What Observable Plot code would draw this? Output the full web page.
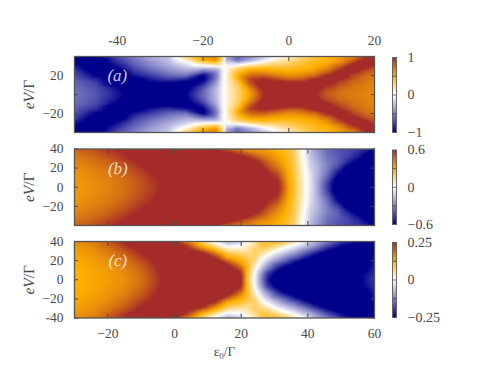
<!DOCTYPE html>
<html>
<head>
<meta charset="utf-8">
<script src="https://cdn.jsdelivr.net/npm/d3@7"></script>
<script src="https://cdn.jsdelivr.net/npm/@observablehq/plot@0.6"></script>
<style>
html,body{margin:0;padding:0;background:#fff}
#chart{position:relative;width:498px;height:374px;overflow:hidden}
#chart svg{position:absolute;left:0;top:0;max-width:none;text-rendering:geometricPrecision}
#chart svg text{font-family:"Liberation Serif","Times New Roman",serif !important}
</style>
</head>
<body>
<div id="chart"></div>
<script>
// Bias-voltage rows (upper half; the maps are mirrored in V)
const voltageRows = [40,36,32,28,24,20,16,12,8,4,0];

// Panel (a): values as fractions of the colour limit, one column per epsilon
const epsA = [-50,-45,-40,-36,-32,-28,-24,-20,-17,-15.5,-14.5,-12,-9,-6,-3,0,3,6,9,12,15,18,20];
const valuesA = [
 [-1.2,-1.2,-1.0,-.85,-.75,-.68,-.63,-.6,-.57,-.55,-.55],
 [-1.0,-1.2,-1.2,-1.2,-1.1,-1.0,-.85,-.75,-.7,-.68,-.67],
 [-.7,-.78,-.88,-1.0,-1.2,-1.2,-1.2,-1.2,-1.0,-.93,-.9],
 [-.5,-.55,-.62,-.7,-.8,-.92,-1.1,-1.2,-1.2,-1.2,-1.1],
 [-.32,-.38,-.44,-.52,-.62,-.75,-.88,-1.05,-1.2,-1.2,-1.2],
 [-.2,-.25,-.3,-.38,-.48,-.6,-.77,-1.0,-1.2,-1.2,-1.2],
 [.28,.08,-.12,-.25,-.38,-.55,-.85,-1.1,-1.1,-1.05,-1.0],
 [.62,.48,.15,-.22,-.6,-1.0,-1.05,-.9,-.72,-.62,-.6],
 [.68,.62,.25,-.2,-.45,-.55,-.5,-.4,-.32,-.28,-.27],
 [.3,.25,.1,-.05,-.08,-.08,-.07,-.06,-.05,-.05,-.05],
 [-.35,-.3,-.1,.03,.06,.08,.08,.08,.07,.07,.07],
 [-.62,-.55,-.12,.25,.38,.48,.45,.35,.3,.27,.27],
 [-.45,-.32,.05,.4,.6,.75,.9,.85,.7,.6,.57],
 [-.25,-.1,.2,.45,.6,.8,1.0,1.1,1.1,1.0,.95],
 [0,.1,.25,.42,.55,.7,.9,1.1,1.2,1.2,1.2],
 [.1,.2,.32,.42,.52,.62,.8,1.05,1.2,1.2,1.2],
 [.25,.33,.4,.46,.54,.65,.82,1.05,1.2,1.2,1.2],
 [.38,.43,.47,.52,.6,.75,1.0,1.2,1.15,1.05,1.02],
 [.45,.48,.54,.62,.78,1.0,1.2,1.1,.95,.85,.82],
 [.55,.6,.7,.9,1.05,1.2,1.0,.88,.8,.75,.73],
 [.65,.8,1.0,1.2,1.05,.9,.82,.76,.73,.7,.7],
 [.95,1.1,1.2,1.0,.85,.76,.72,.7,.68,.67,.66],
 [1.2,1.2,1.0,.85,.76,.72,.68,.66,.65,.64,.64]
];

// Panel (b)
const epsB = [-30,-25,-20,-15,-10,-5,0,5,10,15,20,25,28,31,34,36,38,39.5,41,43,46,49,52,55,58,60];
const valuesB = [
 [.78,.74,.7,.67,.64,.62,.6,.59,.58,.58,.58],
 [.85,.8,.76,.73,.7,.67,.65,.64,.63,.62,.62],
 [.95,.9,.85,.8,.76,.73,.7,.69,.68,.67,.67],
 [1.05,1.0,.97,.92,.87,.83,.8,.77,.75,.74,.74],
 [1.2,1.15,1.1,1.05,1.0,.96,.92,.89,.86,.85,.84],
 [1.2,1.2,1.2,1.2,1.15,1.1,1.05,1.02,1.0,.98,.98],
 [1.2,1.2,1.2,1.2,1.2,1.2,1.2,1.2,1.2,1.2,1.2],
 [1.2,1.2,1.2,1.2,1.2,1.2,1.2,1.2,1.2,1.2,1.2],
 [1.15,1.2,1.2,1.2,1.2,1.2,1.2,1.2,1.2,1.2,1.2],
 [.85,1.05,1.2,1.2,1.2,1.2,1.2,1.2,1.2,1.2,1.2],
 [.65,.85,1.05,1.2,1.2,1.2,1.2,1.2,1.2,1.2,1.2],
 [.6,.65,.8,.95,1.05,1.15,1.2,1.2,1.2,1.2,1.2],
 [.55,.6,.67,.75,.83,.9,.98,1.02,1.05,1.1,1.1],
 [.48,.52,.56,.6,.65,.72,.82,.9,.98,1.02,1.05],
 [.38,.42,.44,.46,.48,.5,.52,.54,.56,.58,.6],
 [.28,.3,.31,.33,.34,.35,.36,.37,.38,.38,.38],
 [.05,.05,.07,.08,.1,.12,.13,.15,.16,.17,.17],
 [-.1,-.1,-.08,-.06,-.04,-.02,-.01,0,0,0,0],
 [-.3,-.28,-.25,-.22,-.2,-.17,-.15,-.14,-.13,-.12,-.12],
 [-.42,-.4,-.37,-.34,-.32,-.3,-.3,-.31,-.33,-.35,-.35],
 [-.6,-.58,-.55,-.53,-.5,-.52,-.55,-.6,-.68,-.75,-.78],
 [-.68,-.66,-.64,-.63,-.66,-.75,-.9,-1.0,-1.1,-1.2,-1.2],
 [-.73,-.72,-.74,-.82,-.93,-1.1,-1.2,-1.2,-1.2,-1.2,-1.2],
 [-.78,-.82,-.9,-1.02,-1.2,-1.2,-1.2,-1.2,-1.2,-1.2,-1.2],
 [-.88,-.98,-1.1,-1.2,-1.2,-1.2,-1.2,-1.2,-1.2,-1.2,-1.2],
 [-1.0,-1.15,-1.2,-1.2,-1.2,-1.2,-1.2,-1.2,-1.2,-1.2,-1.2]
];

// Panel (c)
const epsC = [-30,-25,-20,-15,-10,-5,0,4,8,12,16,20,22,24,26,28,30,33,36,39,42,46,50,55,60];
const valuesC = [
 [.62,.6,.57,.55,.53,.52,.51,.5,.49,.49,.49],
 [.68,.65,.62,.6,.58,.56,.55,.54,.53,.53,.53],
 [.82,.77,.72,.68,.65,.62,.6,.59,.58,.57,.57],
 [1.0,.95,.87,.8,.76,.72,.68,.66,.64,.63,.63],
 [1.2,1.15,1.05,1.0,.93,.88,.83,.79,.76,.75,.74],
 [1.2,1.2,1.2,1.15,1.12,1.05,1.02,1.0,.97,.95,.94],
 [1.05,1.2,1.2,1.2,1.2,1.2,1.2,1.2,1.2,1.2,1.2],
 [.65,.9,1.05,1.2,1.2,1.2,1.2,1.2,1.2,1.2,1.2],
 [.3,.5,.75,1.05,1.2,1.2,1.2,1.2,1.2,1.2,1.2],
 [-.05,.2,.45,.7,.95,1.15,1.2,1.2,1.2,1.2,1.2],
 [-.3,-.1,.15,.35,.5,.75,1.0,1.15,1.2,1.2,1.2],
 [-.2,-.02,.12,.25,.4,.5,.62,.8,.95,1.02,1.0],
 [0,.1,.17,.22,.3,.38,.42,.45,.4,.37,.35],
 [.15,.2,.3,.33,.3,.28,.17,.1,.03,0,-.02],
 [.33,.38,.32,.22,.12,0,-.1,-.2,-.35,-.42,-.45],
 [.42,.38,.25,.1,-.05,-.2,-.35,-.5,-.72,-.85,-.9],
 [.42,.3,.12,-.05,-.2,-.38,-.6,-.75,-.95,-1.05,-1.1],
 [.35,.15,-.05,-.22,-.42,-.6,-.85,-1.05,-1.2,-1.2,-1.2],
 [.15,-.02,-.2,-.4,-.6,-.85,-1.05,-1.2,-1.2,-1.2,-1.2],
 [-.03,-.2,-.4,-.6,-.85,-1.05,-1.2,-1.2,-1.2,-1.2,-1.2],
 [-.25,-.4,-.6,-.85,-1.05,-1.2,-1.2,-1.2,-1.2,-1.2,-1.2],
 [-.5,-.7,-.9,-1.1,-1.2,-1.2,-1.2,-1.2,-1.2,-1.2,-1.2],
 [-.8,-.95,-1.1,-1.2,-1.2,-1.2,-1.2,-1.2,-1.2,-1.2,-1.2],
 [-1.0,-1.1,-1.2,-1.2,-1.2,-1.2,-1.2,-1.2,-1.1,-1.05,-1.05],
 [-1.2,-1.2,-1.2,-1.1,-1.0,-.94,-.9,-.86,-.83,-.8,-.8]
];

// Colour stops (fractions of the limit) and colours
const colorStops = [-1,0,0.5,1];
const colorRange = ["#00008b","#ffffff","#ffb000","#a52a2a"];

// Limits and tick labels
const limits = [1,0.6,0.25];
const panelNames = ["(a)","(b)","(c)"];

const topTicksA = [-40,-20,0,20];
const topLabelsA = ["-40","\u221220","0","20"];
const bottomTicks = [-20,0,20,40,60];
const bottomLabelsC = ["\u221220","0","20","40","60"];
const yTicksA = [-20,0,20];
const yLabelsA = ["\u221220","","20"];
const yTicksB = [-40,-20,0,20,40];
const yLabelsB = ["","\u221220","0","20","40"];
const yLabelsC = ["-40","\u221220","0","20","40"];
const barLabels = [
  ["\u22121","0","1"],
  ["\u22120.6","0","0.6"],
  ["\u22120.25","0","0.25"]
];

const FONT = "'Liberation Serif', serif";
const INK = "#4a4a4a";
const root = document.getElementById("chart");

function toPoints(eps, columns, limit) {
  const pts = [];
  eps.forEach((e, i) => {
    voltageRows.forEach((v, j) => {
      pts.push({e, v, z: columns[i][j] * limit});
      if (v !== 0) pts.push({e, v: -v, z: columns[i][j] * limit});
    });
  });
  return pts;
}

const labelOf = (ticks, labels) => d => labels[ticks.indexOf(d)] ?? "";
const blank = () => "";

function colorScale(limit) {
  return {type: "linear", domain: colorStops.map(s => s * limit), range: colorRange, clamp: true};
}

function panel({eps, values, limit, name, xDomain, top, bottom, yTicks, yLabels, xMarks, annotX}) {
  const pts = toPoints(eps, values, limit);
  const svg = Plot.plot({
    width: 498, height: 374,
    marginLeft: 74, marginRight: 124, marginTop: top, marginBottom: 374 - bottom,
    style: {background: "transparent", fontFamily: FONT, fontSize: "13.5px", color: INK, overflow: "visible"},
    x: {domain: xDomain},
    y: {domain: [-40, 40]},
    color: colorScale(limit),
    marks: [
      Plot.raster(pts, {x: "e", y: "v", fill: "z", interpolate: "barycentric", pixelSize: 1}),
      ...xMarks,
      Plot.axisY({anchor: "left", ticks: yTicks, tickFormat: labelOf(yTicks, yLabels), tickSize: -4, tickPadding: 15,
        stroke: INK, label: "eV/\u0393", labelAnchor: "center", labelArrow: "none", labelOffset: 52}),
      Plot.axisY({anchor: "right", ticks: yTicks, tickFormat: blank, tickSize: -4, stroke: INK, label: null}),
      Plot.frame({stroke: "#555", strokeWidth: 1.3}),
      Plot.text([name], {x: () => annotX, y: () => 20, text: d => d, fill: "white", fontStyle: "italic", fontSize: 17, fillOpacity: 0.8, fontFamily: FONT})
    ]
  });
  root.appendChild(svg);
  return svg;
}

function colorbar(limit, labels, top, bottom) {
  const svg = Plot.plot({
    width: 498, height: 374,
    marginLeft: 392, marginRight: 102, marginTop: top, marginBottom: 374 - bottom,
    style: {background: "transparent", fontFamily: FONT, fontSize: "14px", color: INK},
    x: {domain: [0, 1], axis: null},
    y: {domain: [-limit, limit], axis: null},
    color: colorScale(limit),
    marks: [
      Plot.raster({fill: (x, y) => y, x1: 0, x2: 1, y1: -limit, y2: limit, width: 2, height: 80}),
      Plot.ruleY([-limit / 2, 0, limit / 2], {stroke: "#333", strokeOpacity: 0.7, strokeWidth: 1}),
      Plot.frame({stroke: "#666", strokeWidth: 1}),
      Plot.axisY({anchor: "right", ticks: [-limit, 0, limit], tickSize: 0, tickPadding: 11, label: null,
        tickFormat: labelOf([-limit, 0, limit], labels)})
    ]
  });
  root.appendChild(svg);
}

const topAxis = [
  Plot.axisX({anchor: "top", ticks: topTicksA, tickFormat: labelOf(topTicksA, topLabelsA), tickSize: -4, tickPadding: 15.5, stroke: INK, label: null}),
  Plot.axisX({anchor: "bottom", ticks: topTicksA, tickFormat: blank, tickSize: -4, stroke: INK, label: null})
];
const midAxis = [
  Plot.axisX({anchor: "top", ticks: bottomTicks, tickFormat: blank, tickSize: -4, stroke: INK, label: null}),
  Plot.axisX({anchor: "bottom", ticks: bottomTicks, tickFormat: blank, tickSize: -4, stroke: INK, label: null})
];
const lowAxis = [
  Plot.axisX({anchor: "top", ticks: bottomTicks, tickFormat: blank, tickSize: -4, stroke: INK, label: null}),
  Plot.axisX({anchor: "bottom", ticks: bottomTicks, tickFormat: labelOf(bottomTicks, bottomLabelsC), tickSize: -4, tickPadding: 14, stroke: INK,
    label: "\u03b50/\u0393", labelAnchor: "center", labelArrow: "none", labelOffset: 38})
];

const svgs = [
  panel({eps: epsA, values: valuesA, limit: limits[0], name: panelNames[0], xDomain: [-50, 20], top: 56, bottom: 132, yTicks: yTicksA, yLabels: yLabelsA, xMarks: topAxis, annotX: -40}),
  panel({eps: epsB, values: valuesB, limit: limits[1], name: panelNames[1], xDomain: [-30, 60], top: 148.5, bottom: 225, yTicks: yTicksB, yLabels: yLabelsB, xMarks: midAxis, annotX: -17}),
  panel({eps: epsC, values: valuesC, limit: limits[2], name: panelNames[2], xDomain: [-30, 60], top: 241, bottom: 317.5, yTicks: yTicksB, yLabels: yLabelsC, xMarks: lowAxis, annotX: -17})
];
colorbar(limits[0], barLabels[0], 57, 132);
colorbar(limits[1], barLabels[1], 149.5, 224);
colorbar(limits[2], barLabels[2], 242, 317);

// Italic / subscript parts of the axis titles stay real text
svgs.forEach(s => {
  s.querySelectorAll("text").forEach(t => {
    if (t.textContent === "eV/\u0393") {
      t.innerHTML = '<tspan font-style="italic">eV</tspan>/\u0393';
      t.style.fontSize = "15.5px";
    } else if (t.textContent === "\u03b50/\u0393") {
      t.innerHTML = '\u03b5<tspan dy="3" font-size="9">0</tspan><tspan dy="-3">/\u0393</tspan>';
    }
  });
});
</script>
</body>
</html>
